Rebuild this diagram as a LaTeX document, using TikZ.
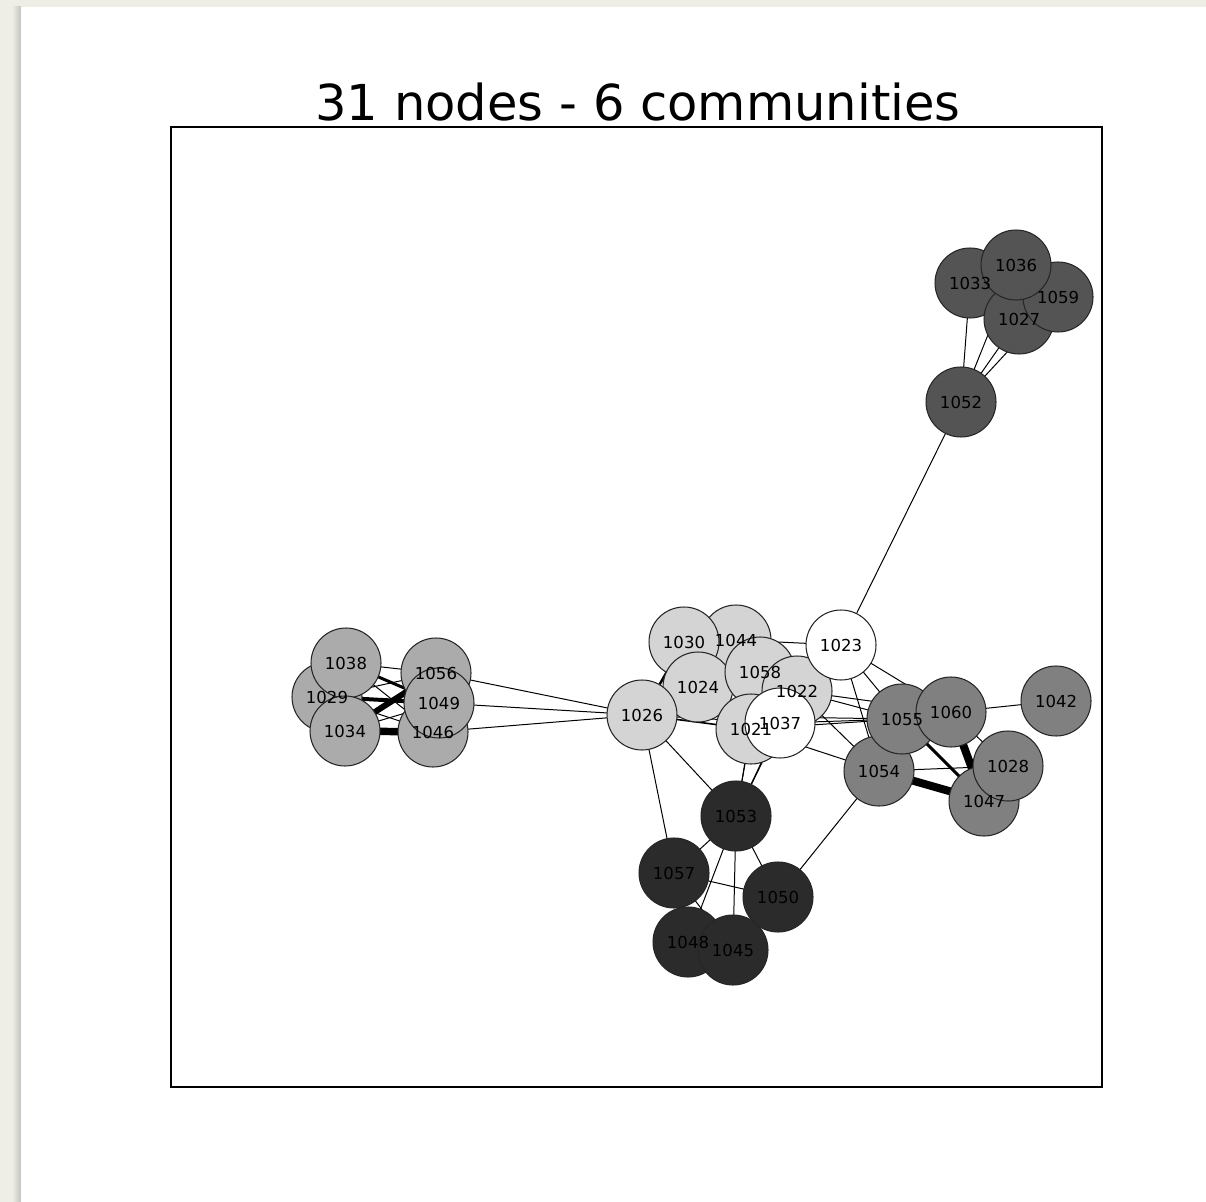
\documentclass[tikz,border=0pt]{standalone}
\usepackage{fontspec}
\setmainfont{DejaVu Sans}
\definecolor{pagebg}{RGB}{238,238,230}
\definecolor{pageshade}{RGB}{196,196,188}
\definecolor{commA}{gray}{1.00}
\definecolor{commB}{gray}{0.83}
\definecolor{commC}{gray}{0.67}
\definecolor{commD}{gray}{0.50}
\definecolor{commE}{gray}{0.33}
\definecolor{commF}{gray}{0.17}
\pgfdeclarelayer{paper}
\pgfdeclarelayer{edges}
\pgfsetlayers{paper,edges,main}
\tikzset{
  vtx/.style={circle, draw=black!85, line width=0.6pt, minimum size=1.4cm, inner sep=0pt},
  lbl/.style={font=\fontsize{9.4}{11}\selectfont, inner sep=0pt, text=black},
  link/.style={draw=black, line width=0.6pt},
  wpx/.style={line width=#1*0.567pt},
}
\begin{document}
\begin{tikzpicture}[x=0.02cm, y=-0.02cm]
% page and frame
\begin{pgfonlayer}{paper}
\fill[pagebg] (0,0) rectangle (1206,1202);
\shade[left color=pagebg, right color=pageshade] (12,7) rectangle (21,1202);
\fill[white] (21,7) rectangle (1206,1202);
\draw[line width=0.85pt] (171,127) rectangle (1102,1087);
\end{pgfonlayer}
\useasboundingbox (0,0) rectangle (1206,1202);
\node[font=\fontsize{28.2}{34}\selectfont, anchor=base, inner sep=0pt] (title) at (638,121) {31 nodes - 6 communities};

% vertices, back to front
\foreach \v/\x/\y/\c in {
  1033/970/283/commE, 1027/1019/319/commE, 1059/1058/297/commE, 1036/1016/265/commE, 1052/961/402/commE,
  1029/327/697/commC, 1038/346/663/commC, 1034/345/731/commC, 1056/436/673/commC, 1046/433/732/commC, 1049/439/703/commC,
  1044/736/640/commB, 1030/684/642/commB, 1024/698/687/commB, 1058/760/672/commB, 1022/797/691/commB, 1021/751/729/commB, 1026/642/715/commB,
  1023/841/645/commA, 1037/780/723/commA,
  1042/1056/701/commD, 1054/879/771/commD, 1055/902/719/commD, 1060/951/712/commD, 1047/984/801/commD, 1028/1008/766/commD,
  1053/736/816/commF, 1057/674/873/commF, 1050/778/897/commF, 1048/688/942/commF, 1045/733/950/commF}
  \node[vtx, fill=\c] (n\v) at (\x,\y) {};

% labels on top of all discs
\foreach \v in {1033,1027,1059,1036,1052,1029,1038,1034,1056,1046,1049,
  1044,1030,1024,1058,1022,1021,1026,1023,1037,
  1042,1054,1055,1060,1047,1028,1053,1057,1050,1048,1045}
  \node[lbl] (l\v) at (n\v.center) {\v};

% edges, beneath the discs
\begin{pgfonlayer}{edges}
\foreach \a/\b/\w in {
  1052/1033/1, 1052/1036/1, 1052/1027/1, 1052/1059/1, 1052/1023/1,
  1038/1056/1, 1038/1049/3, 1038/1046/1, 1029/1056/1, 1029/1049/4,
  1029/1046/1, 1034/1056/6, 1034/1049/1, 1034/1046/7.5,
  1026/1056/1, 1026/1049/1, 1026/1046/1,
  1026/1030/2.5, 1026/1021/1.6, 1026/1037/1, 1026/1055/1, 1026/1053/1, 1026/1057/1,
  1044/1023/1, 1023/1060/1, 1023/1055/1, 1023/1054/1,
  1022/1060/1, 1022/1055/1, 1022/1054/1, 1037/1055/1, 1021/1055/1, 1021/1054/1,
  1021/1053/1, 1058/1053/1, 1037/1053/1, 1022/1053/1,
  1055/1047/3, 1060/1047/8, 1054/1047/8, 1054/1028/1, 1060/1042/1, 1060/1028/1,
  1050/1054/1,
  1053/1057/1, 1053/1050/1, 1053/1045/1, 1053/1048/1, 1057/1050/1, 1057/1045/1, 1050/1045/1}
  \draw[link, wpx=\w] (n\a.center) -- (n\b.center);
\end{pgfonlayer}
\end{tikzpicture}
\end{document}
